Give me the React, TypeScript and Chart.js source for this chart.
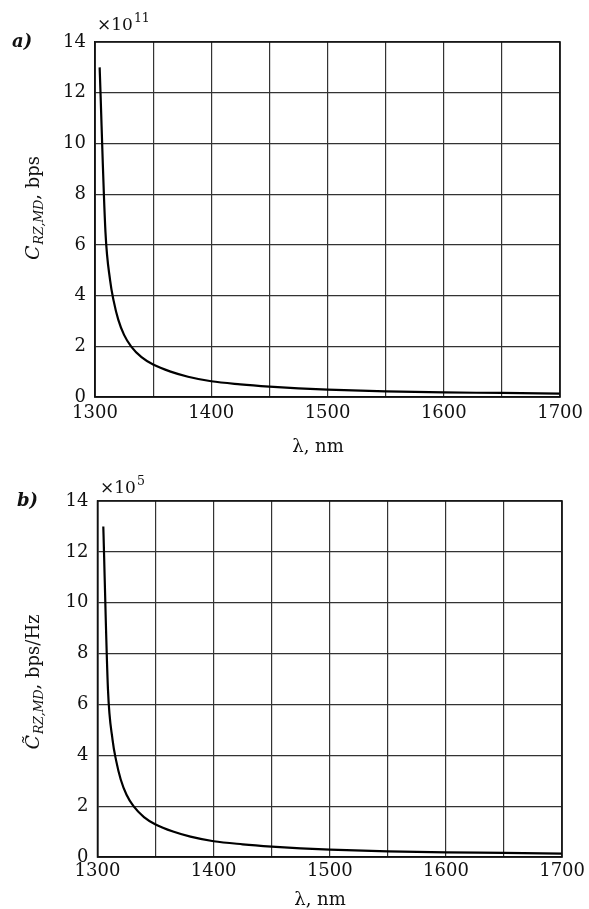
import React, { useEffect, useRef } from "react";
import { Chart, registerables } from "chart.js";

Chart.register(...registerables);

// ---- data ----
const lambdaA = [1304, 1309, 1313, 1316, 1320, 1325, 1331, 1340, 1350, 1365, 1380, 1400, 1425, 1450, 1475, 1500, 1550, 1600, 1650, 1700];
const capacityA = [13.0, 6.5, 4.6, 3.8, 3.05, 2.45, 2.0, 1.57, 1.28, 1.0, 0.8, 0.62, 0.5, 0.41, 0.34, 0.29, 0.22, 0.18, 0.16, 0.13];

const lambdaB = [1305, 1309, 1313, 1316, 1320, 1325, 1331, 1340, 1350, 1365, 1380, 1400, 1425, 1450, 1475, 1500, 1550, 1600, 1650, 1700];
const capacityB = [13.0, 6.6, 4.6, 3.8, 3.05, 2.45, 2.0, 1.57, 1.28, 1.0, 0.8, 0.62, 0.5, 0.41, 0.34, 0.29, 0.22, 0.18, 0.16, 0.13];

const xMin = 1300;
const xMax = 1700;
const xStep = 50;
const xLabelEvery = 100;
const yMin = 0;
const yMax = 14;
const yStep = 2;

const FONT = "'DejaVu Serif', serif";

type Panel = {
  tag: string;
  exponent: string;
  tilde: boolean;
  ySub: string;
  yUnit: string;
  xTitle: string;
  xs: number[];
  ys: number[];
  left: number;
  right: number;
  top: number;
  xAxisH: number;
  xTickPad: number;
  tagPos: [number, number];
  multPos: [number, number];
  yTitlePos: [number, number];
  xTitlePos: [number, number];
};

function drawYTitle(ctx: CanvasRenderingContext2D, p: Panel) {
  const [cx, cy] = p.yTitlePos;
  ctx.save();
  ctx.translate(cx, cy);
  ctx.rotate(-Math.PI / 2);
  ctx.fillStyle = "#111";
  ctx.textBaseline = "alphabetic";
  const fMain = `italic 19px ${FONT}`;
  const fSub = `italic 12.5px ${FONT}`;
  const fUnit = `18px ${FONT}`;
  const mainTxt = p.tilde ? "C\u0303" : "C";
  ctx.font = fMain;
  const w1 = ctx.measureText("C").width;
  ctx.font = fSub;
  const w2 = ctx.measureText(p.ySub).width;
  ctx.font = fUnit;
  const unitTxt = ", " + p.yUnit;
  const w3 = ctx.measureText(unitTxt).width;
  const total = w1 + w2 + w3 + 1;
  let x = -total / 2;
  const base = 6;
  ctx.font = fMain;
  ctx.fillText(mainTxt, x, base);
  x += w1 + 1;
  ctx.font = fSub;
  ctx.fillText(p.ySub, x, base + 4);
  x += w2;
  ctx.font = fUnit;
  ctx.fillText(unitTxt, x, base);
  ctx.restore();
}

function makeTextPlugin(p: Panel) {
  return {
    id: "panelText",
    afterDraw(chart: any) {
      const ctx: CanvasRenderingContext2D = chart.ctx;
      const a = chart.chartArea;
      ctx.save();
      ctx.strokeStyle = "#111";
      ctx.lineWidth = 1.5;
      ctx.strokeRect(a.left, a.top, a.right - a.left, a.bottom - a.top);
      ctx.fillStyle = "#111";
      ctx.font = `bold italic 18px ${FONT}`;
      ctx.textAlign = "left";
      ctx.textBaseline = "middle";
      ctx.fillText(p.tag, p.tagPos[0], p.tagPos[1]);
      ctx.textBaseline = "alphabetic";
      ctx.font = `17px ${FONT}`;
      const t = "\u00d710";
      ctx.fillText(t, p.multPos[0], p.multPos[1]);
      const tw = ctx.measureText(t).width;
      ctx.font = `12.5px ${FONT}`;
      ctx.fillText(p.exponent, p.multPos[0] + tw + 1, p.multPos[1] - 8);
      ctx.font = `18px ${FONT}`;
      ctx.textAlign = "center";
      ctx.textBaseline = "middle";
      ctx.fillText(p.xTitle, p.xTitlePos[0], p.xTitlePos[1]);
      ctx.restore();
      drawYTitle(ctx, p);
    },
  };
}

function PanelChart({ p, height }: { p: Panel; height: number }) {
  const ref = useRef<HTMLCanvasElement | null>(null);
  useEffect(() => {
    if (!ref.current) return;
    const chart = new Chart(ref.current, {
      type: "line",
      data: {
        datasets: [
          {
            data: p.xs.map((x, i) => ({ x, y: p.ys[i] })),
            borderColor: "#000",
            borderWidth: 2.2,
            pointRadius: 0,
            cubicInterpolationMode: "monotone",
            fill: false,
          },
        ],
      },
      options: {
        responsive: false,
        animation: false,
        layout: { padding: { left: 0, right: 589 - p.right, top: p.top, bottom: 0 } },
        plugins: { legend: { display: false }, tooltip: { enabled: false } },
        scales: {
          x: {
            type: "linear",
            min: xMin,
            max: xMax,
            afterFit: (s: any) => {
              s.height = p.xAxisH;
            },
            ticks: {
              stepSize: xStep,
              autoSkip: false,
              maxRotation: 0,
              padding: p.xTickPad,
              color: "#111",
              font: { family: FONT, size: 18 },
              callback: (v: any) => (Number(v) % xLabelEvery === 0 ? String(v) : ""),
            },
            grid: { color: "#333", lineWidth: 1.2, drawTicks: false },
            border: { display: true, color: "#111", width: 1.5 },
          },
          y: {
            type: "linear",
            min: yMin,
            max: yMax,
            afterFit: (s: any) => {
              s.width = p.left;
            },
            ticks: {
              stepSize: yStep,
              autoSkip: false,
              padding: 9,
              color: "#111",
              font: { family: FONT, size: 18 },
            },
            grid: { color: "#333", lineWidth: 1.2, drawTicks: false },
            border: { display: true, color: "#111", width: 1.5 },
          },
        },
      },
      plugins: [makeTextPlugin(p)],
    } as any);
    return () => chart.destroy();
  }, [p]);
  return <canvas ref={ref} width={589} height={height} style={{ display: "block", width: 589, height }} />;
}

const panelA: Panel = {
  tag: "a)",
  exponent: "11",
  tilde: false,
  ySub: "RZ,MD",
  yUnit: "bps",
  xTitle: "\u03bb, nm",
  xs: lambdaA,
  ys: capacityA,
  left: 95,
  right: 565,
  top: 42,
  xAxisH: 455 - 397,
  xTickPad: 6,
  tagPos: [12, 42],
  multPos: [97, 30],
  yTitlePos: [33, 208],
  xTitlePos: [318, 447],
};

const panelB: Panel = {
  tag: "b)",
  exponent: "5",
  tilde: true,
  ySub: "RZ,MD",
  yUnit: "bps/Hz",
  xTitle: "\u03bb, nm",
  xs: lambdaB,
  ys: capacityB,
  left: 97.5,
  right: 565.5,
  top: 46,
  xAxisH: 454 - 402,
  xTickPad: 4,
  tagPos: [17, 46],
  multPos: [100, 38],
  yTitlePos: [33, 227],
  xTitlePos: [320, 445],
};

export default function App() {
  useEffect(() => {
    document.body.style.margin = "0";
    document.body.style.background = "#fff";
  }, []);
  return (
    <div style={{ width: 589, height: 909, background: "#fff" }}>
      <PanelChart p={panelA} height={455} />
      <PanelChart p={panelB} height={454} />
    </div>
  );
}
